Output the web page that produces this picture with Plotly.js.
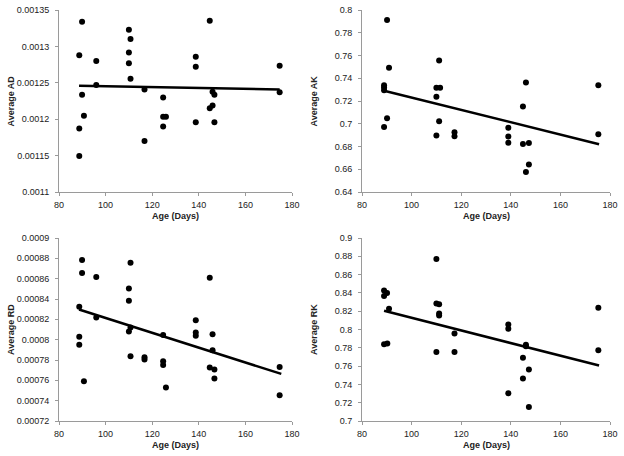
<!DOCTYPE html>
<html>
<head>
<meta charset="utf-8">
<script src="https://cdn.plot.ly/plotly-3.0.1.min.js"></script>
<style>html,body{margin:0;padding:0;background:#fff;}#chart{width:624px;height:456px;}</style>
</head>
<body>
<div id="chart"></div>
<script>
// ---- Data ----
const adAge = [89.9, 88.7, 96, 96, 89.9, 90.7, 88.7, 88.7, 110, 110.7, 110, 110, 110.7, 116.7, 116.7, 124.7, 124.7, 125.9, 124.7, 138.7, 138.7, 138.7, 144.7, 144.7, 145.9, 145.9, 146.7, 146.7, 174.7, 174.7];
const adVal = [0.001334, 0.001288, 0.00128, 0.001247, 0.0012335, 0.0012046, 0.0011872, 0.0011495, 0.001323, 0.00131, 0.0012917, 0.001277, 0.0012555, 0.0012408, 0.0011702, 0.0012298, 0.0012032, 0.0012032, 0.0011899, 0.0012858, 0.001272, 0.0011959, 0.0013353, 0.001215, 0.0012188, 0.0012376, 0.0012335, 0.0011959, 0.0012734, 0.0012371];
const adTrendX = [88.6, 174.7];
const adTrendY = [0.0012459, 0.0012408];

const akAge = [90.1, 90.9, 88.9, 88.9, 88.9, 90.1, 88.9, 110, 111.5, 110, 111.1, 111.1, 110, 117.3, 117.3, 139, 139, 139, 144.9, 146.1, 144.9, 147.3, 147.3, 146.1, 175.3, 175.3];
const akVal = [0.7912, 0.7492, 0.7339, 0.7319, 0.7295, 0.7049, 0.6972, 0.7316, 0.7316, 0.7237, 0.7557, 0.7022, 0.6896, 0.6925, 0.689, 0.6964, 0.6887, 0.6834, 0.7151, 0.7363, 0.6822, 0.6831, 0.6641, 0.6576, 0.7339, 0.6908];
const akTrendX = [88.9, 175.6];
const akTrendY = [0.729, 0.682];

const rdAge = [89.9, 89.9, 96, 88.7, 96, 88.7, 88.7, 90.7, 110.7, 110, 110, 110.7, 110, 110.7, 116.7, 116.7, 124.7, 124.7, 124.7, 125.9, 138.7, 138.7, 138.7, 144.7, 145.9, 145.9, 144.7, 146.7, 146.7, 174.7, 174.7];
const rdVal = [0.0008783, 0.0008655, 0.0008616, 0.0008323, 0.0008218, 0.0008028, 0.0007949, 0.0007591, 0.0008757, 0.0008504, 0.0008382, 0.000812, 0.000808, 0.0007837, 0.0007827, 0.0007804, 0.0008047, 0.0007788, 0.0007752, 0.000753, 0.0008192, 0.000807, 0.0008038, 0.0008609, 0.0008054, 0.0007896, 0.0007726, 0.0007706, 0.0007617, 0.0007732, 0.0007453];
const rdTrendX = [88.6, 175.4];
const rdTrendY = [0.0008297, 0.0007663];

const rkAge = [88.9, 88.9, 90.1, 90.9, 88.9, 90.2, 110, 110, 111.1, 111.1, 111.1, 110, 117.3, 117.3, 139, 139, 139, 146.1, 146.1, 144.9, 144.9, 147.3, 147.3, 175.3, 175.3];
const rkVal = [0.8427, 0.8365, 0.8398, 0.8226, 0.7839, 0.7847, 0.877, 0.8285, 0.8277, 0.8175, 0.8153, 0.7755, 0.7956, 0.7755, 0.8055, 0.8007, 0.7303, 0.7832, 0.7818, 0.769, 0.7464, 0.7562, 0.7153, 0.8237, 0.7774];
const rkTrendX = [88.9, 175.6];
const rkTrendY = [0.8204, 0.7606];

const xTitle = "Age (Days)";
const yTitles = ["Average AD", "Average AK", "Average RD", "Average RK"];

// ---- Build traces ----
const sets = [
  [adAge, adVal, adTrendX, adTrendY],
  [akAge, akVal, akTrendX, akTrendY],
  [rdAge, rdVal, rdTrendX, rdTrendY],
  [rkAge, rkVal, rkTrendX, rkTrendY]
];
const traces = [];
sets.forEach((s, i) => {
  const xa = i === 0 ? 'x' : 'x' + (i + 1);
  const ya = i === 0 ? 'y' : 'y' + (i + 1);
  traces.push({x: s[0], y: s[1], type: 'scatter', mode: 'markers', xaxis: xa, yaxis: ya,
    marker: {color: '#000', size: 6}, hoverinfo: 'x+y'});
  traces.push({x: s[2], y: s[3], type: 'scatter', mode: 'lines', xaxis: xa, yaxis: ya,
    line: {color: '#000', width: 2.5}, hoverinfo: 'skip'});
});

const W = 624, H = 456;
const boxes = [
  {l: 59, r: 292, t: 10, b: 192},
  {l: 362, r: 610, t: 10, b: 192},
  {l: 59, r: 292, t: 238, b: 421},
  {l: 362, r: 610, t: 238, b: 421}
];
const yRanges = [[0.0011, 0.00135], [0.64, 0.8], [0.00072, 0.0009], [0.7, 0.9]];
const yDtick = [0.00005, 0.02, 0.00002, 0.02];
const yFormat = ['.5~f', '.2~f', '.5~f', '.2~f'];

const tickFont = {family: 'Liberation Sans, Arial, sans-serif', size: 9, color: '#222'};
const layout = {
  width: W, height: H,
  margin: {l: 0, r: 0, t: 0, b: 0},
  paper_bgcolor: '#fff', plot_bgcolor: '#fff',
  showlegend: false,
  annotations: []
};
boxes.forEach((b, i) => {
  const sfx = i === 0 ? '' : String(i + 1);
  layout['xaxis' + sfx] = {
    domain: [b.l / W, b.r / W], anchor: 'y' + sfx,
    range: [80, 180], dtick: 20, tick0: 80,
    showgrid: false, zeroline: false, showline: true, linecolor: '#9a9a9a', linewidth: 1,
    ticks: 'outside', ticklen: 3, tickcolor: '#9a9a9a', tickfont: tickFont, ticklabelstandoff: 1
  };
  layout['yaxis' + sfx] = {
    domain: [1 - b.b / H, 1 - b.t / H], anchor: 'x' + sfx,
    range: yRanges[i], dtick: yDtick[i], tick0: yRanges[i][0],
    showgrid: false, zeroline: false, showline: true, linecolor: '#9a9a9a', linewidth: 1,
    ticks: 'outside', ticklen: 3, tickcolor: '#9a9a9a', tickfont: tickFont, ticklabelstandoff: 4,
    tickformat: yFormat[i]
  };
  layout.annotations.push({
    text: '<b>' + xTitle + '</b>', xref: 'paper', yref: 'paper',
    x: ((b.l + b.r) / 2) / W, y: 1 - (b.b + 24) / H, showarrow: false,
    xanchor: 'center', yanchor: 'middle',
    font: {family: 'Liberation Sans, Arial, sans-serif', size: 9, color: '#222'}
  });
  layout.annotations.push({
    text: '<b>' + yTitles[i] + '</b>', xref: 'paper', yref: 'paper',
    x: (b.l - 48.5) / W, y: 1 - ((b.t + b.b) / 2) / H, showarrow: false, textangle: -90,
    xanchor: 'center', yanchor: 'middle',
    font: {family: 'Liberation Sans, Arial, sans-serif', size: 9, color: '#222'}
  });
});

Plotly.newPlot('chart', traces, layout, {staticPlot: true, displayModeBar: false});
</script>
</body>
</html>
